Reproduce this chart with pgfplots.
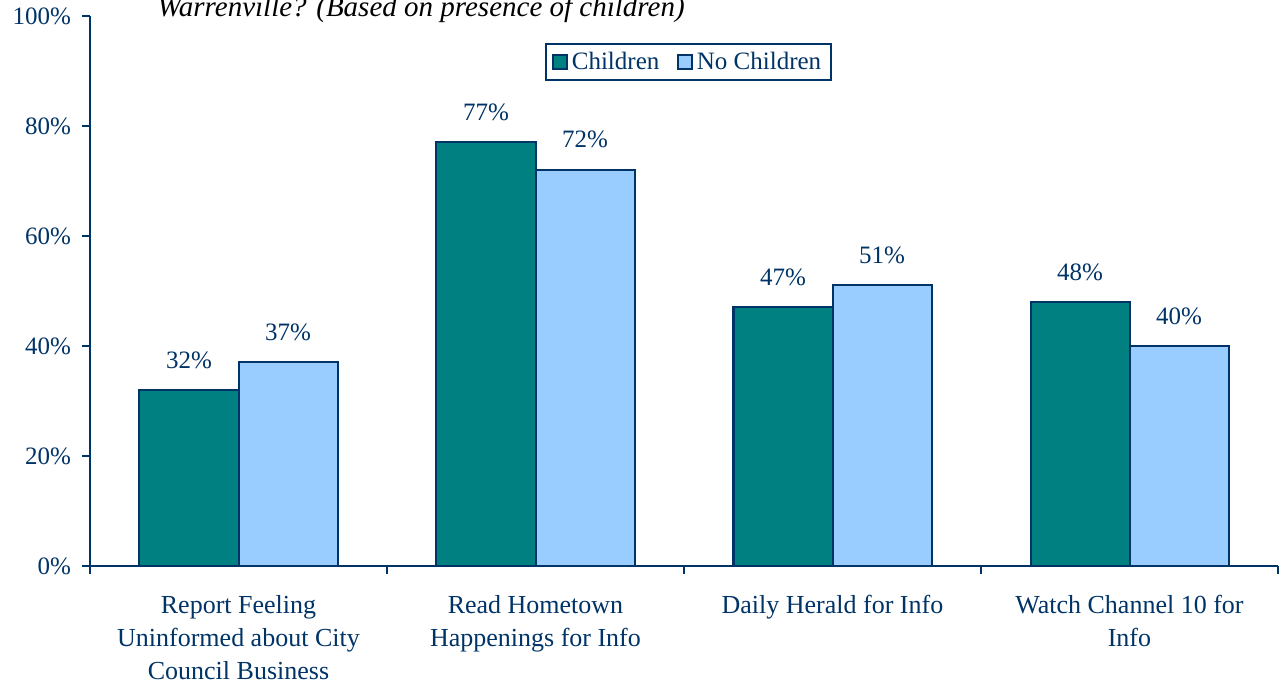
\documentclass[border=0pt]{standalone}
\usepackage{fontspec}
\setmainfont{Liberation Serif}
\usepackage{pgfplots}
\pgfplotsset{compat=1.18}
\definecolor{navy}{HTML}{003366}
\definecolor{tealc}{HTML}{008080}
\definecolor{lblue}{HTML}{99CCFF}
\begin{document}
\begin{tikzpicture}[x=1pt,y=1pt]
\path[use as bounding box] (0,0) rectangle (640,342.5);
\node[anchor=base west, font=\fontsize{14.5}{16}\selectfont\itshape, inner sep=0pt] at (78.5,334) {Warrenville? (Based on presence of children)};
\begin{axis}[
  at={(45pt,59.5pt)}, anchor=south west,
  scale only axis, width=594pt, height=275pt,
  ymin=0, ymax=100, xmin=-0.5, xmax=3.5,
  axis x line*=bottom, axis y line*=left,
  axis line style={navy, line width=1pt, -},
  ybar=0pt, bar width=49.5pt,
  ytick={0,20,...,100},
  minor ytick={0,20,...,100},
  /pgf/number format/assume math mode=true,
  yticklabel={\pgfmathprintnumber{\tick}\%},
  xtick={0,1,2,3},
  minor xtick={-0.5,0.5,1.5,2.5,3.5},
  xticklabels={{Report Feeling\\Uninformed about City\\Council Business},{Read Hometown\\Happenings for Info},{Daily Herald for Info},{Watch Channel 10 for\\Info}},
  major tick length=0pt, minor tick length=4pt,
  tick align=outside,
  tick style={navy, line width=1pt},
  xticklabel style={align=center, font=\fontsize{13}{16.5}\selectfont, text=navy, yshift=-11pt},
  yticklabel style={font=\fontsize{12.5}{15}\selectfont, text=navy, xshift=-6pt},
  nodes near coords={\pgfmathprintnumber{\pgfplotspointmeta}\%},
  every node near coord/.append style={font=\fontsize{12.5}{15}\selectfont, text=navy, yshift=7pt},
  legend style={at={(0.504,0.916)}, anchor=center, legend columns=2, draw=navy, line width=1pt,
    font=\fontsize{12.5}{15}\selectfont, text=navy, inner xsep=3pt, inner ysep=2pt,
    /tikz/every even column/.append style={column sep=7pt}},
  legend image code/.code={\draw[#1, line width=0.8pt] (0pt,-3.5pt) rectangle (7pt,3.5pt);},
  clip=false,
]
\addplot[fill=tealc, draw=navy, line width=1pt] coordinates {(0,32) (1,77) (2,47) (3,48)};
\addplot[fill=lblue, draw=navy, line width=1pt] coordinates {(0,37) (1,72) (2,51) (3,40)};
\legend{Children, No Children}
\end{axis}
\end{tikzpicture}
\end{document}
